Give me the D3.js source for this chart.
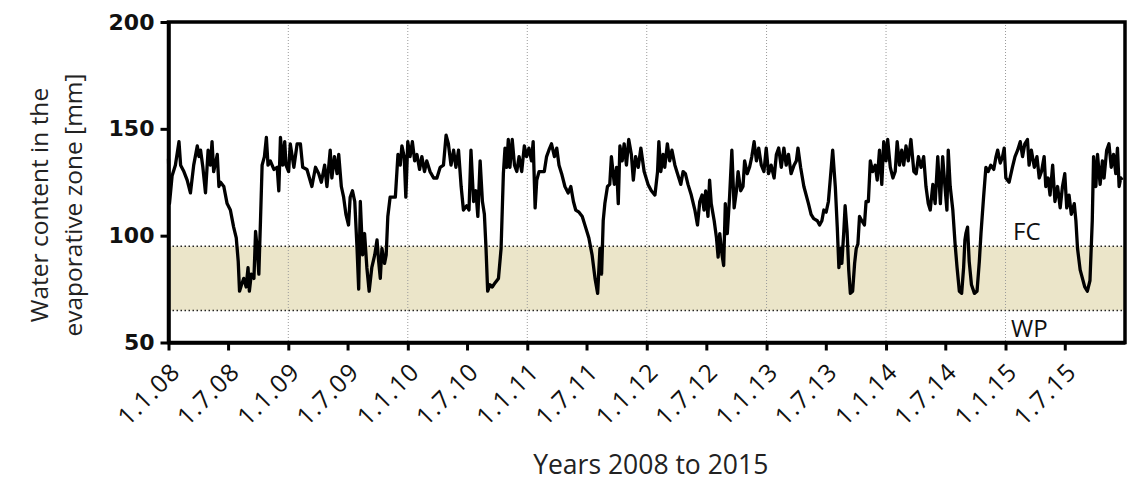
<!DOCTYPE html>
<html>
<head>
<meta charset="utf-8">
<script src="https://d3js.org/d3.v7.min.js"></script>
<style>
  body { margin: 0; background: white; }
  text { font-family: "Open Sans", sans-serif; }
</style>
</head>
<body>
<div id="container"></div>
<script>
let w = 1135;
let h = 481;
let plotLeft = 168.5, plotTop = 22, plotRight = 1125, plotBottom = 342.5;

// days since 1.1.2008 and water content [mm]
let obsDay = [0, 3, 11, 21, 32, 37, 47, 57, 67, 77, 88, 93, 98, 105, 113, 121, 128, 133, 138, 149,
  154, 159, 169, 179, 189, 199, 207, 213, 217, 223, 230, 237, 243, 247, 253, 261, 266, 271, 276, 281,
  286, 293, 299, 304, 311, 322, 332, 337, 342, 349, 355, 359, 367, 372, 383, 393, 403, 410, 423, 438,
  449, 459, 467, 477, 484, 494, 499, 507, 515, 520, 528, 535, 542, 550, 555, 562, 569, 576, 581, 586,
  593, 599, 606, 613, 621, 630, 637, 642, 647, 652, 660, 665, 670, 677, 693, 701, 708, 713, 720, 725,
  731, 738, 745, 752, 759, 767, 774, 782, 789, 799, 810, 820, 830, 840, 848, 855, 863, 871, 878, 886,
  894, 901, 911, 918, 924, 932, 939, 945, 952, 959, 965, 970, 975, 982, 989, 998, 1008, 1016, 1023, 1028,
  1033, 1038, 1043, 1050, 1057, 1064, 1071, 1079, 1087, 1094, 1101, 1109, 1114, 1120, 1125, 1132, 1140, 1148, 1155, 1162,
  1170, 1179, 1186, 1193, 1201, 1211, 1221, 1229, 1237, 1244, 1254, 1264, 1274, 1284, 1294, 1303, 1311, 1318, 1323, 1328,
  1333, 1341, 1348, 1353, 1362, 1369, 1374, 1379, 1386, 1392, 1399, 1406, 1414, 1420, 1427, 1435, 1443, 1453, 1465, 1475,
  1486, 1494, 1498, 1504, 1511, 1516, 1524, 1531, 1538, 1547, 1555, 1565, 1572, 1579, 1587, 1597, 1608, 1616, 1623, 1630,
  1636, 1641, 1648, 1653, 1658, 1667, 1674, 1679, 1684, 1691, 1696, 1701, 1707, 1714, 1721, 1728, 1735, 1740, 1748, 1755,
  1760, 1768, 1775, 1782, 1789, 1796, 1803, 1811, 1819, 1826, 1833, 1841, 1850, 1857, 1864, 1872, 1880, 1887, 1894, 1902,
  1911, 1918, 1923, 1931, 1941, 1955, 1963, 1971, 1982, 1989, 1996, 2002, 2009, 2016, 2022, 2029, 2037, 2043, 2048, 2053,
  2057, 2063, 2067, 2073, 2078, 2083, 2090, 2096, 2101, 2106, 2111, 2118, 2126, 2131, 2138, 2144, 2151, 2159, 2165, 2172,
  2179, 2185, 2192, 2197, 2205, 2213, 2220, 2226, 2233, 2240, 2246, 2253, 2260, 2268, 2277, 2284, 2291, 2299, 2307, 2314,
  2321, 2327, 2335, 2342, 2350, 2358, 2365, 2372, 2378, 2382, 2388, 2396, 2403, 2409, 2416, 2423, 2429, 2433, 2436, 2441,
  2446, 2453, 2462, 2470, 2477, 2482, 2490, 2497, 2504, 2512, 2521, 2528, 2533, 2541, 2548, 2553, 2558, 2568, 2578, 2586,
  2594, 2602, 2609, 2616, 2624, 2629, 2636, 2645, 2653, 2660, 2667, 2675, 2680, 2687, 2693, 2701, 2708, 2716, 2724, 2731,
  2738, 2744, 2751, 2758, 2767, 2772, 2777, 2785, 2792, 2799, 2807, 2815, 2822, 2826, 2833, 2838, 2846, 2853, 2858, 2866,
  2873, 2880, 2887, 2894, 2899, 2904, 2909, 2914];
let water = [136, 115, 128, 133, 144, 133, 130, 126, 120, 133, 142, 137, 140, 132, 120, 140, 133, 144, 130, 138,
  123, 125, 123, 115, 112, 104, 99, 88, 74, 77, 80, 76, 85, 74, 82, 80, 102, 94, 82, 107,
  133, 137, 146, 133, 135, 131, 132, 121, 146, 133, 144, 133, 130, 143, 132, 143, 143, 132, 131, 123,
  132, 129, 125, 133, 123, 140, 127, 137, 129, 138, 123, 118, 110, 105, 118, 121, 116, 94, 75, 116,
  91, 101, 85, 74, 85, 91, 98, 88, 80, 94, 87, 91, 109, 118, 118, 138, 133, 142, 137, 118,
  144, 137, 144, 135, 138, 131, 137, 130, 135, 130, 127, 127, 132, 133, 147, 143, 133, 140, 132, 140,
  123, 112, 114, 112, 140, 116, 121, 109, 135, 116, 110, 94, 74, 77, 76, 78, 80, 94, 129, 141,
  132, 145, 132, 145, 133, 130, 137, 130, 142, 137, 141, 135, 144, 113, 126, 130, 130, 130, 137, 140,
  143, 137, 141, 133, 129, 123, 120, 123, 116, 112, 111, 109, 104, 99, 91, 80, 73, 94, 82, 107,
  115, 123, 124, 137, 124, 132, 115, 142, 135, 143, 133, 145, 138, 126, 137, 132, 141, 130, 124, 121,
  119, 130, 144, 130, 138, 132, 143, 135, 140, 133, 129, 124, 130, 129, 124, 119, 112, 105, 116, 119,
  112, 121, 109, 126, 115, 107, 99, 90, 101, 91, 86, 115, 101, 118, 140, 113, 121, 130, 121, 123,
  135, 129, 132, 137, 144, 135, 141, 133, 130, 141, 129, 133, 127, 138, 141, 132, 141, 133, 138, 129,
  133, 135, 141, 132, 123, 115, 110, 108, 107, 105, 107, 112, 111, 116, 127, 140, 123, 104, 85, 94,
  87, 102, 114, 102, 84, 73, 74, 87, 94, 96, 109, 107, 105, 116, 116, 135, 130, 133, 126, 140,
  124, 144, 135, 145, 132, 127, 130, 144, 133, 140, 133, 142, 135, 145, 130, 129, 137, 132, 137, 123,
  115, 112, 124, 115, 137, 115, 137, 123, 112, 140, 123, 112, 96, 85, 74, 73, 85, 98, 101, 104,
  88, 77, 73, 74, 88, 101, 118, 132, 130, 133, 131, 137, 140, 134, 137, 141, 127, 125, 132, 137,
  140, 144, 137, 143, 145, 133, 140, 132, 137, 127, 130, 137, 123, 127, 119, 133, 116, 123, 113, 123,
  129, 113, 119, 110, 115, 107, 94, 84, 80, 76, 74, 79, 107, 137, 123, 138, 124, 135, 127, 140,
  143, 132, 138, 129, 141, 123, 127, 126];

let xTickLabels = ["1.1.08", "1.7.08", "1.1.09", "1.7.09", "1.1.10", "1.7.10", "1.1.11", "1.7.11",
  "1.1.12", "1.7.12", "1.1.13", "1.7.13", "1.1.14", "1.7.14", "1.1.15", "1.7.15"];
let yTicks = [50, 100, 150, 200];
let fcLevel = 95;
let wpLevel = 65;

let parseTick = d3.timeParse("%-d.%-m.%y");
let startDate = new Date(2008, 0, 1);
let endDate = new Date(2016, 0, 1);

let x = d3.scaleTime().domain([startDate, endDate]).range([plotLeft, plotRight]);
let y = d3.scaleLinear().domain([50, 200]).range([plotBottom, plotTop]);

let series = obsDay.map((d, i) => ({date: d3.timeDay.offset(startDate, d), v: water[i]}));
let tickDates = xTickLabels.map(parseTick);

let viz = d3.select("#container")
  .append("svg")
    .attr("width", w)
    .attr("height", h)
    .style("background-color", "white")
;

// FC - WP band
viz.append("rect")
  .attr("x", plotLeft)
  .attr("y", y(fcLevel))
  .attr("width", plotRight - plotLeft)
  .attr("height", y(wpLevel) - y(fcLevel))
  .attr("fill", "#ebe5c9")
;

// yearly grid lines
viz.selectAll(".grid")
  .data(tickDates.filter(d => d.getMonth() == 0 && d > startDate))
  .enter()
  .append("line")
    .attr("class", "grid")
    .attr("x1", d => x(d))
    .attr("x2", d => x(d))
    .attr("y1", plotTop)
    .attr("y2", plotBottom)
    .style("stroke", "#9a9a9a")
    .style("stroke-width", 1)
    .style("stroke-dasharray", "1,2")
;

viz.selectAll(".level")
  .data([fcLevel, wpLevel])
  .enter()
  .append("line")
    .attr("class", "level")
    .attr("x1", plotLeft)
    .attr("x2", plotRight)
    .attr("y1", d => y(d))
    .attr("y2", d => y(d))
    .style("stroke", "#222")
    .style("stroke-width", 1.5)
    .style("stroke-dasharray", "1.5,2.5")
;

viz.append("text")
  .text("FC")
  .attr("x", 1013)
  .attr("y", y(fcLevel) - 6)
  .attr("font-size", 24)
  .attr("fill", "#111")
;
viz.append("text")
  .text("WP")
  .attr("x", 1011)
  .attr("y", y(wpLevel) + 27)
  .attr("font-size", 24)
  .attr("fill", "#111")
;

let line = d3.line()
  .x(d => x(d.date))
  .y(d => y(d.v))
;

viz.append("path")
  .datum(series)
  .attr("d", line)
  .style("fill", "none")
  .style("stroke", "black")
  .style("stroke-width", 3.3)
  .style("stroke-linejoin", "round")
;

// axes
let xAxis = viz.append("g")
  .attr("transform", "translate(0," + plotBottom + ")")
  .call(d3.axisBottom(x).tickValues(tickDates).tickFormat((d, i) => xTickLabels[i]).tickSize(8).tickSizeOuter(0))
;
xAxis.selectAll("text")
  .attr("font-size", 24.5)
  .attr("letter-spacing", 1.2)
  .attr("fill", "#111")
  .attr("text-anchor", "end")
  .attr("dy", 0)
  .attr("transform", "translate(5,23) rotate(-45)")
;

let yAxis = viz.append("g")
  .attr("transform", "translate(" + plotLeft + ",0)")
  .call(d3.axisLeft(y).tickValues(yTicks).tickSize(8).tickSizeOuter(0).tickPadding(6))
;
yAxis.selectAll("text")
  .style("font-family", "'DejaVu Sans', sans-serif")
  .attr("font-weight", "bold")
  .attr("font-size", 22)
  .attr("fill", "#111")
;

viz.selectAll(".domain").style("stroke-width", 3.5);
viz.selectAll(".tick line").style("stroke-width", 3);

// frame
viz.append("rect")
  .attr("x", plotLeft)
  .attr("y", plotTop)
  .attr("width", plotRight - plotLeft)
  .attr("height", plotBottom - plotTop)
  .style("fill", "none")
  .style("stroke", "black")
  .style("stroke-width", 3.5)
;

viz.append("text")
  .text("Years 2008 to 2015")
  .attr("x", (plotLeft + plotRight) / 2 + 4)
  .attr("y", 474)
  .attr("text-anchor", "middle")
  .attr("font-size", 26.5)
  .attr("fill", "#222")
;

viz.append("text")
  .text("Water content in the")
  .attr("text-anchor", "middle")
  .attr("transform", "translate(48,205) rotate(-90)")
  .attr("font-size", 24.5)
  .attr("fill", "#222")
;
viz.append("text")
  .text("evaporative zone [mm]")
  .attr("text-anchor", "middle")
  .attr("transform", "translate(82,205) rotate(-90)")
  .attr("font-size", 24.5)
  .attr("fill", "#222")
;
</script>
</body>
</html>
